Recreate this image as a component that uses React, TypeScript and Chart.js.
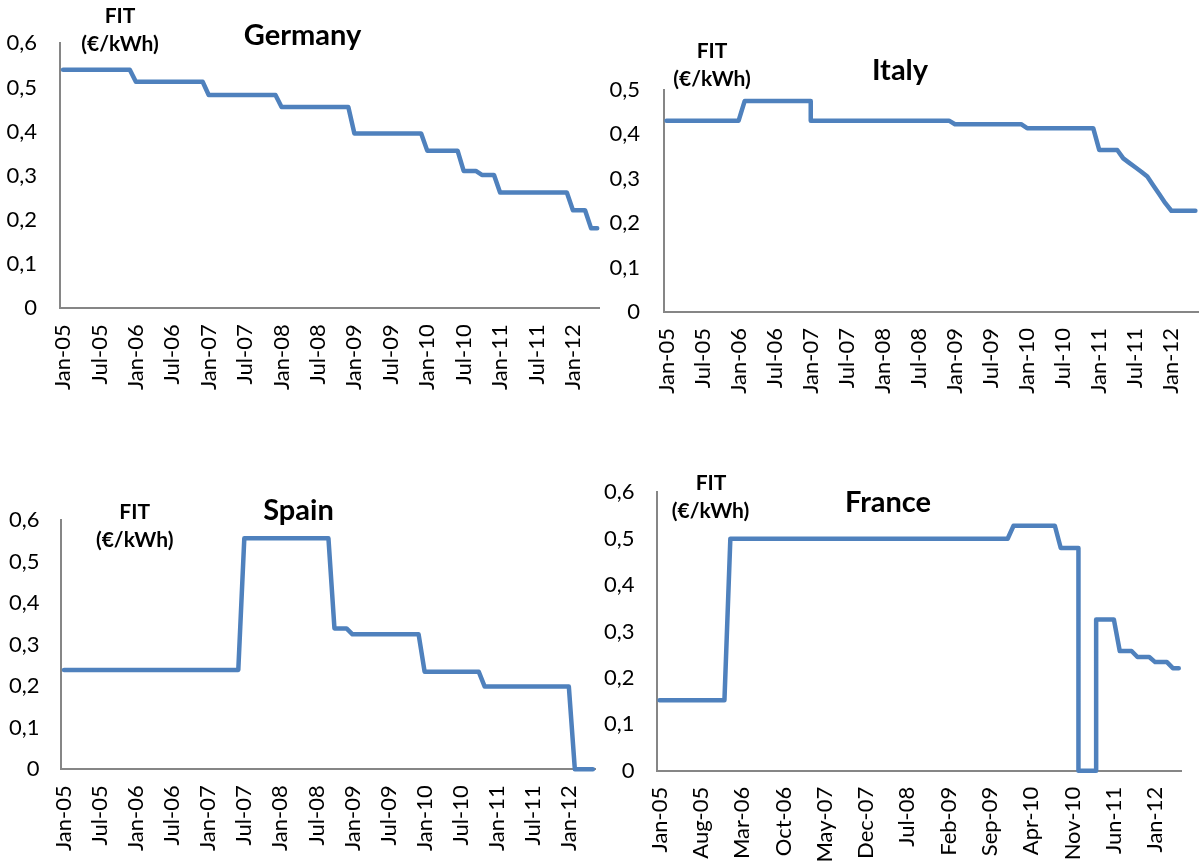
import React, { useEffect, useRef } from "react";
import { Chart, registerables } from "chart.js";

Chart.register(...registerables);

// ---- categories (monthly, Jan-05 .. May-12) ----
const months = [
  "Jan-05","Feb-05","Mar-05","Apr-05","May-05","Jun-05","Jul-05","Aug-05","Sep-05","Oct-05","Nov-05","Dec-05",
  "Jan-06","Feb-06","Mar-06","Apr-06","May-06","Jun-06","Jul-06","Aug-06","Sep-06","Oct-06","Nov-06","Dec-06",
  "Jan-07","Feb-07","Mar-07","Apr-07","May-07","Jun-07","Jul-07","Aug-07","Sep-07","Oct-07","Nov-07","Dec-07",
  "Jan-08","Feb-08","Mar-08","Apr-08","May-08","Jun-08","Jul-08","Aug-08","Sep-08","Oct-08","Nov-08","Dec-08",
  "Jan-09","Feb-09","Mar-09","Apr-09","May-09","Jun-09","Jul-09","Aug-09","Sep-09","Oct-09","Nov-09","Dec-09",
  "Jan-10","Feb-10","Mar-10","Apr-10","May-10","Jun-10","Jul-10","Aug-10","Sep-10","Oct-10","Nov-10","Dec-10",
  "Jan-11","Feb-11","Mar-11","Apr-11","May-11","Jun-11","Jul-11","Aug-11","Sep-11","Oct-11","Nov-11","Dec-11",
  "Jan-12","Feb-12","Mar-12","Apr-12","May-12",
];

// ---- series: vertices of each FIT curve (month label, €/kWh) ----
const germanyX = ["Jan-05","Dec-05","Jan-06","Dec-06","Jan-07","Dec-07","Jan-08","Dec-08","Jan-09","Dec-09","Jan-10","Jun-10","Jul-10","Sep-10","Oct-10","Dec-10","Jan-11","Dec-11","Jan-12","Mar-12","Apr-12","May-12"];
const germanyY = [0.54,0.54,0.513,0.513,0.483,0.483,0.456,0.456,0.396,0.396,0.357,0.357,0.311,0.311,0.302,0.302,0.262,0.262,0.222,0.222,0.181,0.181];

const italyX = ["Jan-05","Jan-06","Feb-06","Jan-07","Jan-07","Dec-08","Jan-09","Dec-09","Jan-10","Dec-10","Jan-11","Apr-11","May-11","Jun-11","Jul-11","Aug-11","Sep-11","Oct-11","Nov-11","Dec-11","Jan-12","May-12"];
const italyY = [0.431,0.431,0.475,0.475,0.431,0.431,0.423,0.423,0.414,0.414,0.365,0.365,0.346,0.336,0.326,0.316,0.305,0.285,0.265,0.245,0.228,0.228];

const spainX = ["Jan-05","Jun-07","Jul-07","Sep-08","Oct-08","Dec-08","Jan-09","Dec-09","Jan-10","Oct-10","Nov-10","Jan-12","Feb-12","May-12"];
const spainY = [0.239,0.239,0.556,0.556,0.339,0.339,0.325,0.325,0.235,0.235,0.199,0.199,0,0];

const franceX = ["Jan-05","Dec-05","Jan-06","Dec-09","Jan-10","Aug-10","Sep-10","Dec-10","Dec-10","Mar-11","Mar-11","Jun-11","Jul-11","Sep-11","Oct-11","Dec-11","Jan-12","Mar-12","Apr-12","May-12"];
const franceY = [0.152,0.152,0.5,0.5,0.528,0.528,0.48,0.48,0,0,0.326,0.326,0.258,0.258,0.245,0.245,0.234,0.234,0.221,0.221];

// ---- axis settings ----
const yMaxTop = 0.6;
const yMaxItaly = 0.5;
const yStep = 0.1;
const labelEvery = 6;
const labelEveryFrance = 7;

const FONT = "Lato, 'Open Sans', sans-serif";
const LINE_COLOR = "#4f81bd";
const AXIS_COLOR = "#868686";
const TICK_SIZE = 22;

type TextItem = { t: string; x: number; y: number; size: number };

type Panel = {
  left: number;
  top: number;
  boxW: number;
  boxH: number;
  canvasW: number;
  axisX: number;
  plotTop: number;
  zeroY: number;
  spacing: number;
  yMax: number;
  every: number;
  yPad: number;
  xs: string[];
  ys: number[];
  texts: TextItem[];
};

const panels: Panel[] = [
  {
    left: 0, top: 0, boxW: 600, boxH: 430, canvasW: 612,
    axisX: 60, plotTop: 43.3, zeroY: 308.3, spacing: 6.07, yMax: yMaxTop, every: labelEvery, yPad: 23,
    xs: germanyX, ys: germanyY,
    texts: [
      { t: "FIT", x: 120, y: 23.3, size: 21 },
      { t: "(€/kWh)", x: 120, y: 51, size: 21 },
      { t: "Germany", x: 302.5, y: 45, size: 29 },
    ],
  },
  {
    left: 600, top: 0, boxW: 600, boxH: 430, canvasW: 600,
    axisX: 63.5, plotTop: 90, zeroY: 312, spacing: 6.01, yMax: yMaxItaly, every: labelEvery, yPad: 23.5,
    xs: italyX, ys: italyY,
    texts: [
      { t: "FIT", x: 112, y: 58.3, size: 21 },
      { t: "(€/kWh)", x: 112, y: 86, size: 21 },
      { t: "Italy", x: 300, y: 80, size: 29 },
    ],
  },
  {
    left: 0, top: 430, boxW: 600, boxH: 431, canvasW: 600,
    axisX: 61, plotTop: 90, zeroY: 339.3, spacing: 6.01, yMax: yMaxTop, every: labelEvery, yPad: 21.6,
    xs: spainX, ys: spainY,
    texts: [
      { t: "FIT", x: 134.7, y: 89.3, size: 21 },
      { t: "(€/kWh)", x: 134.7, y: 117.3, size: 21 },
      { t: "Spain", x: 298.5, y: 90, size: 29 },
    ],
  },
  {
    left: 600, top: 430, boxW: 600, boxH: 431, canvasW: 600,
    axisX: 56.6, plotTop: 62.3, zeroY: 340.7, spacing: 5.9, yMax: yMaxTop, every: labelEveryFrance, yPad: 22,
    xs: franceX, ys: franceY,
    texts: [
      { t: "FIT", x: 111, y: 60, size: 21 },
      { t: "(€/kWh)", x: 110.5, y: 88.3, size: 21 },
      { t: "France", x: 288, y: 81.7, size: 29 },
    ],
  },
];

function fmt(v: number): string {
  if (Math.abs(v) < 1e-9) return "0";
  return v.toFixed(1).replace(".", ",");
}

function PanelChart({ p }: { p: Panel }) {
  const ref = useRef<HTMLCanvasElement | null>(null);
  useEffect(() => {
    if (!ref.current) return;
    const H = p.boxH;
    const plotRight = p.axisX + months.length * p.spacing;
    const textPlugin = {
      id: "panelTexts",
      afterDraw(chart: any) {
        const ctx = chart.ctx;
        ctx.save();
        ctx.fillStyle = "#000";
        ctx.textAlign = "center";
        ctx.textBaseline = "alphabetic";
        for (const it of p.texts) {
          ctx.font = `bold ${it.size}px ${FONT}`;
          ctx.fillText(it.t, it.x, it.y);
        }
        ctx.restore();
      },
    };
    const data = p.xs.map((x, i) => ({ x, y: p.ys[i] }));
    const chart = new Chart(ref.current, {
      type: "line",
      data: {
        labels: months,
        datasets: [
          {
            data: data as any,
            borderColor: LINE_COLOR,
            borderWidth: 4.5,
            pointRadius: 0,
            pointHoverRadius: 0,
            tension: 0,
            fill: false,
            clip: false as any,
            borderJoinStyle: "round",
            borderCapStyle: "round",
          },
        ],
      },
      options: {
        animation: false,
        responsive: false,
        events: [],
        layout: {
          padding: { top: p.plotTop, left: 0, bottom: 0, right: p.canvasW - plotRight },
        },
        plugins: { legend: { display: false }, tooltip: { enabled: false }, title: { display: false } },
        scales: {
          x: {
            type: "category",
            offset: true,
            grid: { display: false, drawTicks: false },
            border: { display: true, color: AXIS_COLOR, width: 2 },
            ticks: {
              autoSkip: false,
              minRotation: 90,
              maxRotation: 90,
              padding: 16,
              color: "#000",
              font: { family: FONT, size: TICK_SIZE },
              callback: (_v: any, i: number) => (i % p.every === 0 ? months[i] : null),
            },
            afterFit: (s: any) => {
              s.height = H - p.zeroY;
              s.paddingLeft = 0;
              s.paddingRight = 0;
              s.paddingTop = 0;
              s.paddingBottom = 0;
            },
          },
          y: {
            type: "linear",
            min: 0,
            max: p.yMax,
            grid: { display: false, drawTicks: false },
            border: { display: true, color: AXIS_COLOR, width: 2 },
            ticks: {
              stepSize: yStep,
              padding: p.yPad,
              color: "#000",
              font: { family: FONT, size: TICK_SIZE },
              callback: (v: any) => fmt(Number(v)),
            },
            afterFit: (s: any) => {
              s.width = p.axisX;
              s.paddingLeft = 0;
              s.paddingRight = 0;
              s.paddingTop = 0;
              s.paddingBottom = 0;
            },
          },
        },
      },
      plugins: [textPlugin],
    } as any);
    return () => chart.destroy();
  }, [p]);
  return (
    <div
      style={{
        position: "absolute",
        left: p.left,
        top: p.top,
        width: p.boxW,
        height: p.boxH,
        overflow: "hidden",
      }}
    >
      <canvas
        ref={ref}
        width={p.canvasW}
        height={p.boxH}
        style={{ width: p.canvasW, height: p.boxH, display: "block" }}
      />
    </div>
  );
}

export default function App() {
  return (
    <div
      style={{
        position: "absolute",
        left: 0,
        top: 0,
        width: 1200,
        height: 861,
        background: "#fff",
        overflow: "hidden",
      }}
    >
      {panels.map((p, i) => (
        <PanelChart key={i} p={p} />
      ))}
    </div>
  );
}
